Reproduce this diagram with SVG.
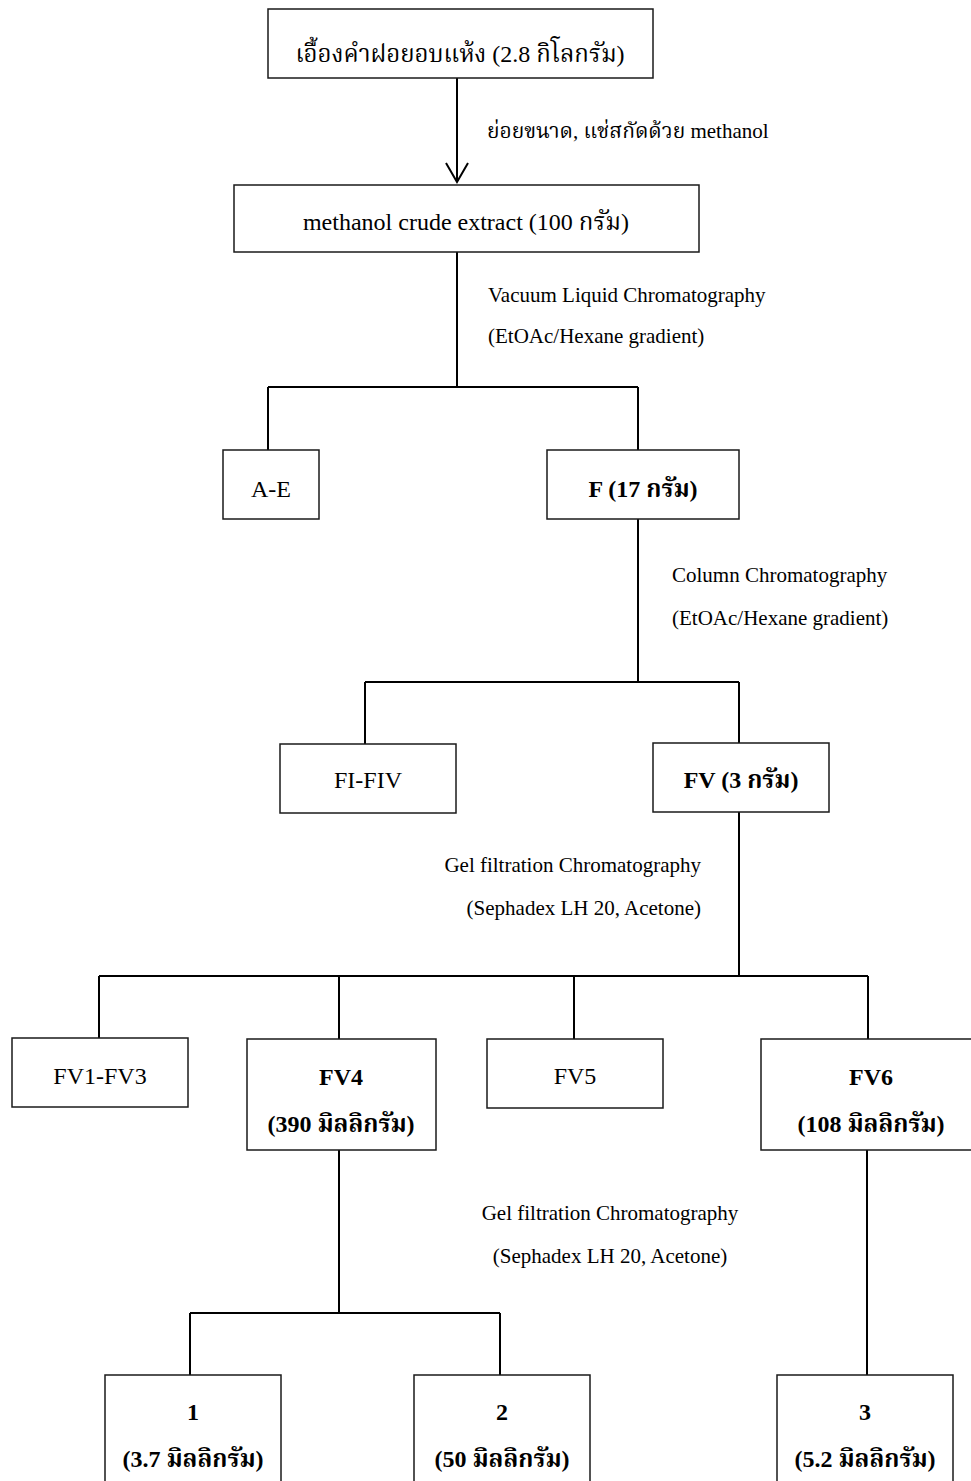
<svg xmlns="http://www.w3.org/2000/svg" width="971" height="1481" viewBox="0 0 971 1481">
<style>
.box{fill:#fff;stroke:#1a1a1a;stroke-width:1.5}
.conn{fill:none;stroke:#000;stroke-width:2}
text{font-family:"Liberation Serif","Noto Serif Thai","Noto Sans Thai","DejaVu Serif",serif;fill:#000}
.t{font-size:24px;text-anchor:middle}
.b{font-weight:bold}
.lbl{font-size:21px}
</style>
<defs>
<marker id="arr" viewBox="0 0 24 22" refX="12" refY="20" markerWidth="24" markerHeight="22" markerUnits="userSpaceOnUse" orient="auto-start-reverse">
<path d="M1 1 L12 20 L23 1" fill="none" stroke="#000" stroke-width="2"/>
</marker>
</defs>
<rect width="971" height="1481" fill="#fff"/>
<g id="connectors">
<line class="conn" x1="457" y1="78" x2="457" y2="182"/>
<path d="M446 163 L457 182 L468 163" class="conn"/>
<path class="conn" d="M457 252 V387 M268 387 H638 M268 387 V450 M638 387 V450"/>
<path class="conn" d="M638 519 V682 M365 682 H739 M365 682 V744 M739 682 V743"/>
<path class="conn" d="M739 812 V976 M99 976 H868 M99 976 V1038 M339 976 V1039 M574 976 V1039 M868 976 V1039"/>
<path class="conn" d="M339 1150 V1313 M190 1313 H500 M190 1313 V1375 M500 1313 V1375"/>
<path class="conn" d="M867 1150 V1375"/>
</g>
<g id="labels">
<text class="lbl" x="487" y="138">ย่อยขนาด, แช่สกัดด้วย methanol</text>
<text class="lbl" x="488" y="302">Vacuum Liquid Chromatography</text>
<text class="lbl" x="488" y="343">(EtOAc/Hexane gradient)</text>
<text class="lbl" x="672" y="582">Column Chromatography</text>
<text class="lbl" x="672" y="625">(EtOAc/Hexane gradient)</text>
<text class="lbl" x="701" y="872" text-anchor="end">Gel filtration Chromatography</text>
<text class="lbl" x="701" y="915" text-anchor="end">(Sephadex LH 20, Acetone)</text>
<text class="lbl" x="610" y="1220" text-anchor="middle">Gel filtration Chromatography</text>
<text class="lbl" x="610" y="1263" text-anchor="middle">(Sephadex LH 20, Acetone)</text>
</g>
<g id="n-top"><rect class="box" x="268" y="9" width="385" height="69"/><text class="t" x="460" y="62">เอื้องคำฝอยอบแห้ง (2.8 กิโลกรัม)</text></g>
<g id="n-crude"><rect class="box" x="234" y="185" width="465" height="67"/><text class="t" x="466" y="230">methanol crude extract (100 กรัม)</text></g>
<g id="n-AE"><rect class="box" x="223" y="450" width="96" height="69"/><text class="t" x="271" y="497">A-E</text></g>
<g id="n-F"><rect class="box" x="547" y="450" width="192" height="69"/><text class="t b" x="643" y="497">F (17 กรัม)</text></g>
<g id="n-FI-FIV"><rect class="box" x="280" y="744" width="176" height="69"/><text class="t" x="368" y="788">FI-FIV</text></g>
<g id="n-FV"><rect class="box" x="653" y="743" width="176" height="69"/><text class="t b" x="741" y="788">FV (3 กรัม)</text></g>
<g id="n-FV1-FV3"><rect class="box" x="12" y="1038" width="176" height="69"/><text class="t" x="100" y="1084">FV1-FV3</text></g>
<g id="n-FV4"><rect class="box" x="247" y="1039" width="189" height="111"/><text class="t b" x="341" y="1085">FV4</text><text class="t b" x="341" y="1132">(390 มิลลิกรัม)</text></g>
<g id="n-FV5"><rect class="box" x="487" y="1039" width="176" height="69"/><text class="t" x="575" y="1084">FV5</text></g>
<g id="n-FV6"><rect class="box" x="761" y="1039" width="230" height="111"/><text class="t b" x="871" y="1085">FV6</text><text class="t b" x="871" y="1132">(108 มิลลิกรัม)</text></g>
<g id="n-1"><rect class="box" x="105" y="1375" width="176" height="120"/><text class="t b" x="193" y="1420">1</text><text class="t b" x="193" y="1467">(3.7 มิลลิกรัม)</text></g>
<g id="n-2"><rect class="box" x="414" y="1375" width="176" height="120"/><text class="t b" x="502" y="1420">2</text><text class="t b" x="502" y="1467">(50 มิลลิกรัม)</text></g>
<g id="n-3"><rect class="box" x="777" y="1375" width="176" height="120"/><text class="t b" x="865" y="1420">3</text><text class="t b" x="865" y="1467">(5.2 มิลลิกรัม)</text></g>
</svg>
